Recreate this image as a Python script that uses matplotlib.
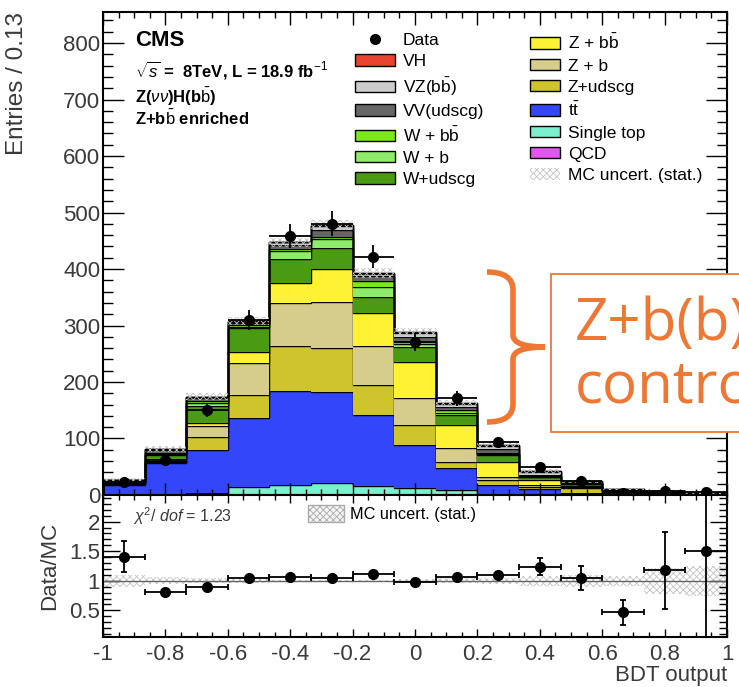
import numpy as np
import matplotlib.pyplot as plt
from matplotlib.patches import Patch, Rectangle
from matplotlib.lines import Line2D
from matplotlib.path import Path
from matplotlib.patches import PathPatch
from matplotlib.ticker import MultipleLocator, FuncFormatter

plt.rcParams['font.family'] = ['Liberation Sans', 'DejaVu Sans']
plt.rcParams['mathtext.fontset'] = 'custom'
plt.rcParams['mathtext.rm'] = 'Liberation Sans'
plt.rcParams['mathtext.it'] = 'Liberation Sans:italic'
plt.rcParams['mathtext.bf'] = 'Liberation Sans:bold'
plt.rcParams['axes.unicode_minus'] = False
plt.rcParams['hatch.linewidth'] = 0.6

# 15 bins in BDT output, width 2/15
edges = np.linspace(-1.0, 1.0, 16)
centers = 0.5 * (edges[:-1] + edges[1:])
half_w = 0.5 * (edges[1] - edges[0])

# MC components per bin
single_top = [0.5, 1, 4, 15, 18, 22, 16, 12, 8, 2, 1, 0.5, 0.3, 0.2, 0.1]
ttbar = [17, 55, 76, 121, 166, 160, 125, 76, 39, 16, 10, 3, 1.5, 1, 0.5]
z_udscg = [2, 3, 22, 41, 79, 79, 53, 36, 12, 8, 4, 8, 3, 2, 1]
z_b = [1, 2, 20, 56, 77, 80, 70, 47, 24, 6, 3, 3, 1.5, 1, 0.5]
z_bb = [1, 2, 5, 21, 36, 59, 59, 65, 41, 27, 9, 2, 1, 0.5, 0.3]
w_udscg = [3, 8, 30, 41, 41, 38, 27, 26, 18, 12, 4, 3, 1, 1, 0.5]
w_b = [0.5, 2, 6, 3, 15, 15, 18, 5, 3, 1, 1, 0.5, 0.2, 0.1, 0.1]
w_bb = [0.5, 1, 3, 3, 3, 4, 11, 4, 5, 2, 1, 0.5, 0.2, 0.1, 0.1]
vv_udscg = [1, 6, 6, 4, 8, 12, 8, 8, 5, 8, 3, 2, 1, 0.5, 0.3]
vz_bb = [0.5, 1, 2, 2, 4, 8, 5, 8, 6, 5, 5, 1, 0.5, 0.3, 0.2]
vh = [0.1, 0.2, 0.3, 0.5, 0.8, 1, 1, 1.2, 1.5, 1.2, 1, 0.6, 0.4, 0.3, 0.2]
qcd = [0, 0, 0, 0, 0, 0, 0, 0, 0, 0, 0, 0, 0, 0, 0]
mc_unc = [3, 5, 6, 7, 8, 8, 8, 7, 6, 5, 4, 3, 2, 2, 1.5]

data = [23, 62, 150, 310, 458, 480, 422, 271, 171, 93, 50, 25, 4, 7, 5]

# ratio panel
ratio = [1.41, 0.81, 0.90, 1.05, 1.07, 1.04, 1.12, 0.98, 1.07, 1.09, 1.24, 1.05, 0.47, 1.18, 1.51]
ratio_err = [0.26, 0.03, 0.03, 0.02, 0.02, 0.02, 0.03, 0.03, 0.04, 0.05, 0.15, 0.2, 0.21, 0.65, 1.5]
ratio_unc = [0.1, 0.06, 0.04, 0.03, 0.02, 0.02, 0.02, 0.03, 0.04, 0.05, 0.08, 0.1, 0.08, 0.22, 0.25]

# colours
c_vh = '#E8432E'
c_vz = '#CCCCCC'
c_vv = '#666666'
c_wbb = '#7AE81A'
c_wb = '#8EEC6A'
c_wudscg = '#4A9A14'
c_zbb = '#FFF234'
c_zb = '#D6CC8C'
c_zudscg = '#CEC42C'
c_tt = '#3446FA'
c_st = '#7CF0CE'
c_qcd = '#E255F0'
c_unc = '#c4c4c4'
orange = '#EE7733'
grey_txt = '#3a3a3a'

stack = [(single_top, c_st), (ttbar, c_tt), (z_udscg, c_zudscg), (z_b, c_zb),
         (z_bb, c_zbb), (w_udscg, c_wudscg), (w_b, c_wb), (w_bb, c_wbb),
         (vv_udscg, c_vv), (vz_bb, c_vz), (vh, c_vh), (qcd, c_qcd)]

fig = plt.figure(figsize=(7.39, 6.87), dpi=100)
ax = fig.add_axes([0.1394, 0.2795, 0.8444, 0.703])
rax = fig.add_axes([0.1394, 0.0728, 0.8444, 0.2067])

bottom = np.zeros(len(edges) - 1)
for vals, col in stack:
    top = bottom + np.array(vals, dtype=float)
    ax.stairs(top, edges, baseline=bottom, fill=True, facecolor=col, lw=0)
    ax.stairs(top, edges, color='black', lw=1.0)
    bottom = top
total = bottom

unc = np.array(mc_unc)
ax.stairs(total + unc, edges, baseline=total - unc, fill=True,
          facecolor='none', edgecolor=c_unc, hatch='xxxxx', lw=0)

ax.errorbar(centers, data, xerr=half_w, yerr=np.sqrt(data), fmt='o', color='black',
            ms=7, elinewidth=1.3, capsize=0, zorder=5)

# ratio
runc = np.array(ratio_unc)
rax.stairs(1 + runc, edges, baseline=1 - runc, fill=True,
           facecolor='none', edgecolor=c_unc, hatch='xxxxx', lw=0)
rax.axhline(1, color='#666666', lw=1.0)
rax.errorbar(centers, ratio, xerr=half_w, yerr=ratio_err, fmt='o', color='black',
             ms=7, elinewidth=1.3, capsize=2, capthick=1.3, zorder=5)


def fmt(v, pos):
    s = f'{round(v, 2):g}'
    return '0' if s == '-0' else s


for a in (ax, rax):
    a.set_xlim(-1, 1)
    a.xaxis.set_major_locator(MultipleLocator(0.2))
    a.xaxis.set_minor_locator(MultipleLocator(0.05))
    a.tick_params(which='both', direction='in', top=True, right=True, width=1.0,
                  labelcolor=grey_txt, labelsize=16)
    for s in a.spines.values():
        s.set_linewidth(1.5)

ax.set_ylim(0, 855)
ax.yaxis.set_major_locator(MultipleLocator(100))
ax.yaxis.set_minor_locator(MultipleLocator(20))
ax.tick_params(axis='x', which='major', length=9, labelbottom=False)
ax.tick_params(axis='x', which='minor', length=4.5)
ax.tick_params(axis='y', which='major', length=15, pad=2)
ax.tick_params(axis='y', which='minor', length=7.5)

rax.set_ylim(0.05, 2.45)
rax.yaxis.set_major_locator(MultipleLocator(0.5))
rax.yaxis.set_minor_locator(MultipleLocator(0.1))
rax.yaxis.set_major_formatter(FuncFormatter(fmt))
rax.xaxis.set_major_formatter(FuncFormatter(fmt))
rax.tick_params(axis='x', which='major', length=6, pad=5)
rax.tick_params(axis='x', which='minor', length=3.5)
rax.tick_params(axis='y', which='major', length=12, pad=2)
rax.tick_params(axis='y', which='minor', length=6)

ax.set_ylabel('Entries / 0.13', loc='top', fontsize=17.5, color=grey_txt)
ax.yaxis.set_label_coords(-0.121, 1.0)
rax.set_ylabel('Data/MC', fontsize=16, color=grey_txt)
rax.yaxis.set_label_coords(-0.069, 0.5)
rax.set_xlabel('BDT output', loc='right', fontsize=16, color=grey_txt)
rax.xaxis.set_label_coords(1.0, -0.2)

# CMS labels
fig.text(135 / 739, 1 - 40 / 687, 'CMS', fontsize=16, weight='bold', va='center')
fig.text(135 / 739, 1 - 70 / 687, r'$\sqrt{s}$ =  8TeV, L = 18.9 fb$^{-1}$',
         fontsize=12, weight='bold', va='center')
fig.text(135 / 739, 1 - 97 / 687, r'Z($\nu\nu$)H(b$\bar{\rm b}$)',
         fontsize=12, weight='bold', va='center')
fig.text(135 / 739, 1 - 118 / 687, r'Z+b$\bar{\rm b}$ enriched',
         fontsize=12, weight='bold', va='center')

# legends
def box(col):
    return Patch(facecolor=col, edgecolor='black', lw=1.0)


h1 = [Line2D([], [], marker='o', color='black', ls='none', ms=7),
      box(c_vh), box(c_vz), box(c_vv), box(c_wbb), box(c_wb), box(c_wudscg)]
l1 = ['Data', 'VH', r'VZ(b$\bar{\rm b}$)', 'VV(udscg)', r'W + b$\bar{\rm b}$', 'W + b', 'W+udscg']
h2 = [box(c_zbb), box(c_zb), box(c_zudscg), box(c_tt), box(c_st), box(c_qcd),
      Patch(facecolor='none', edgecolor=c_unc, hatch='xxxxx', lw=0)]
l2 = [r'Z + b$\bar{\rm b}$', 'Z + b', 'Z+udscg', r't$\bar{\rm t}$', 'Single top', 'QCD',
      'MC uncert. (stat.)']

common = dict(loc='upper left', bbox_transform=fig.transFigure, frameon=False,
              fontsize=12.5, handleheight=0.63, labelspacing=0.36, handletextpad=0.46,
              borderpad=0, borderaxespad=0)
fig.legend(h1, l1, bbox_to_anchor=(355 / 739, 1 - 33 / 687), handlelength=2.3, **common)
fig.legend(h2, l2, bbox_to_anchor=(530 / 739, 1 - 33 / 687), handlelength=1.72, **common)

# ratio panel texts
fig.text(133 / 739, 1 - 516 / 687, r'$\chi^{2}$/ $dof$ = 1.23', fontsize=11.5, va='center',
         color=grey_txt)
fig.legend([Patch(facecolor='#f4f4f4', edgecolor='#aaaaaa', hatch='xxxxx', lw=1.0)],
           ['MC uncert. (stat.)'], loc='upper left', bbox_to_anchor=(308 / 739, 1 - 505 / 687),
           bbox_transform=fig.transFigure, frameon=False, fontsize=11.7, handlelength=2.2,
           handleheight=1.2, handletextpad=0.4, borderpad=0, borderaxespad=0)

# orange annotation: brace, box and text (runs off the right edge)
W, H = 739.0, 687.0
pts = [(487, 272), (513, 272), (513, 290),
       (513, 335), (513, 347), (545, 347),
       (513, 347), (513, 359), (513, 404),
       (513, 422), (487, 422)]
codes = [Path.MOVETO, Path.CURVE3, Path.CURVE3,
         Path.LINETO, Path.CURVE3, Path.CURVE3,
         Path.CURVE3, Path.CURVE3, Path.LINETO,
         Path.CURVE3, Path.CURVE3]
brace = Path([(x / W, 1 - y / H) for x, y in pts], codes)
fig.add_artist(PathPatch(brace, transform=fig.transFigure, facecolor='none',
                         edgecolor=orange, lw=4.0, capstyle='butt'))
fig.add_artist(Rectangle((551 / W, 1 - 432 / H), 0.4, 158 / H, transform=fig.transFigure,
                         facecolor='white', edgecolor=orange, lw=1.3))
fig.text(575 / W, 1 - 340 / H, 'Z+b(b)', fontsize=42, color=orange, family='Open Sans',
         va='baseline')
fig.text(575 / W, 1 - 403 / H, 'control', fontsize=42, color=orange, family='Open Sans',
         va='baseline')

fig.savefig('out.png', dpi=100)
